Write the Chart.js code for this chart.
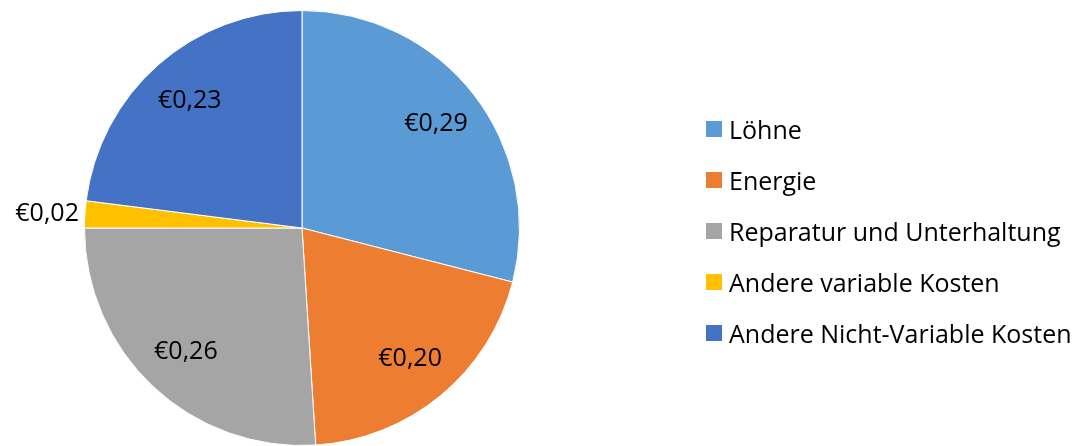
<!DOCTYPE html>
<html>
<head>
<meta charset="utf-8">
<script src="https://cdn.jsdelivr.net/npm/chart.js@4.4.0/dist/chart.umd.min.js"></script>
<style>
  html, body { margin: 0; padding: 0; background: #fff; }
  #wrap { position: relative; width: 1089px; height: 446px; }
  #legend { position: absolute; left: 706px; top: 103px; font-family: "Open Sans", sans-serif; font-size: 25px; color: #000; }
  .item { height: 51px; display: flex; align-items: center; white-space: nowrap; }
  .box { width: 16px; height: 16px; margin-right: 7px; }
</style>
</head>
<body>
<div id="wrap">
  <canvas id="pie" width="1089" height="446"></canvas>
  <div id="legend"></div>
</div>
<script>
const categories = ['Löhne', 'Energie', 'Reparatur und Unterhaltung', 'Andere variable Kosten', 'Andere Nicht-Variable Kosten'];
const costs = [0.29, 0.20, 0.26, 0.02, 0.23];
const sliceColors = ['#5B9BD5', '#ED7D31', '#A5A5A5', '#FFC000', '#4472C4'];

function formatEuro(v) {
    return '€' + v.toFixed(2).replace('.', ',');
}

// draws the value labels, small slices get theirs outside the pie
const valueLabels = {
    id: 'valueLabels',
    afterDatasetsDraw(chart) {
        const ctx = chart.ctx;
        const meta = chart.getDatasetMeta(0);
        ctx.save();
        ctx.font = '25px "Open Sans", sans-serif';
        ctx.fillStyle = '#000';
        ctx.textBaseline = 'middle';
        meta.data.forEach((arc, i) => {
            const mid = (arc.startAngle + arc.endAngle) / 2;
            const text = formatEuro(costs[i]);
            if (costs[i] < 0.05) {
                const r = arc.outerRadius + 6;
                ctx.textAlign = 'right';
                ctx.fillText(text, arc.x + Math.cos(mid) * r, arc.y + Math.sin(mid) * r);
            } else {
                const r = arc.outerRadius * 0.78;
                ctx.textAlign = 'center';
                ctx.fillText(text, arc.x + Math.cos(mid) * r, arc.y + Math.sin(mid) * r);
            }
        });
        ctx.restore();
    }
};

new Chart(document.getElementById('pie'), {
    type: 'pie',
    data: {
        labels: categories,
        datasets: [{
            data: costs,
            backgroundColor: sliceColors,
            borderColor: '#ffffff',
            borderWidth: 1
        }]
    },
    options: {
        responsive: false,
        animation: false,
        layout: { padding: { left: 82, right: 567, top: 10, bottom: 0 } },
        plugins: {
            legend: { display: false },
            tooltip: { enabled: false }
        }
    },
    plugins: [valueLabels]
});

const legendEl = document.getElementById('legend');
categories.forEach((name, i) => {
    const row = document.createElement('div');
    row.className = 'item';
    const box = document.createElement('span');
    box.className = 'box';
    box.style.background = sliceColors[i];
    row.appendChild(box);
    row.appendChild(document.createTextNode(name));
    legendEl.appendChild(row);
});
</script>
</body>
</html>
